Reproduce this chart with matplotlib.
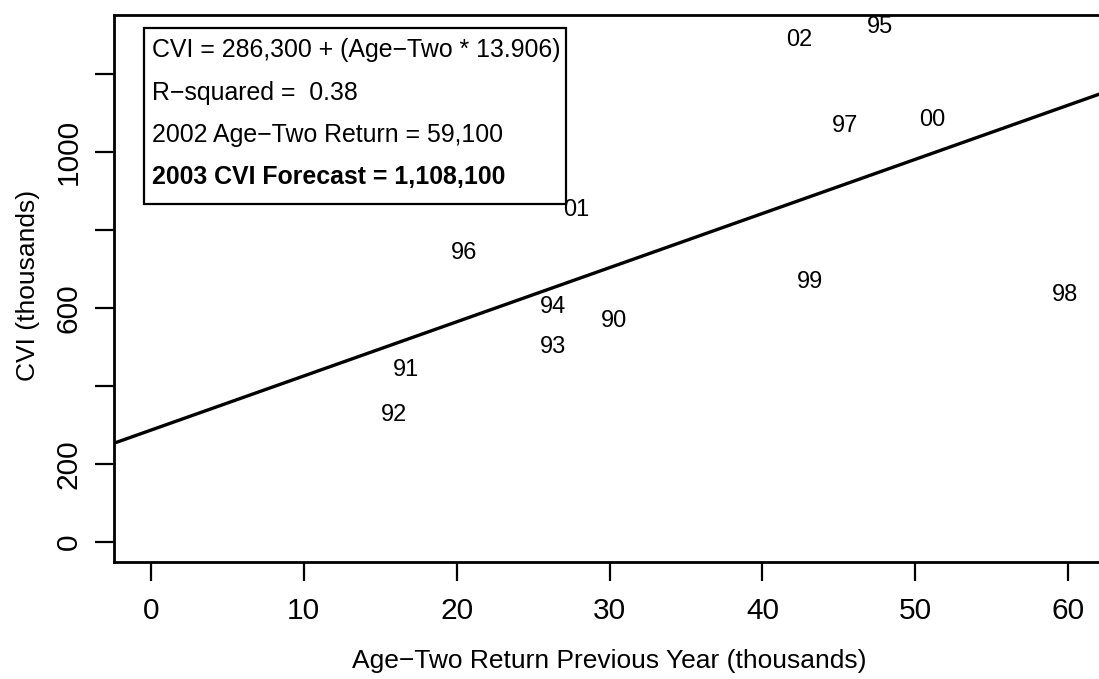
import numpy as np
import matplotlib.pyplot as plt
from matplotlib.patches import Rectangle

plt.rcParams['font.family'] = ['Liberation Sans', 'DejaVu Sans']

# point labels (brood year) and their values, thousands
YEARS = ['90', '91', '92', '93', '94', '95', '96', '97', '98', '99', '00', '01', '02']
AGE_TWO = [30.3, 16.7, 15.9, 26.3, 26.3, 47.7, 20.5, 45.4, 59.8, 43.1, 51.1, 27.8, 42.4]
CVI = [567, 441, 325, 500, 603, 1320, 740, 1067, 633, 667, 1082, 851, 1289]

INTERCEPT = 286.3
SLOPE = 13.906

BOX_LINES = ['CVI = 286,300 + (Age\u2212Two * 13.906)',
             'R\u2212squared =  0.38',
             '2002 Age\u2212Two Return = 59,100',
             '2003 CVI Forecast = 1,108,100']
BOX_Y = [0.936, 0.857, 0.781, 0.704]

X_TICKS = [0, 10, 20, 30, 40, 50, 60]
Y_TICKS = [0, 200, 400, 600, 800, 1000, 1200]
Y_TICK_LABELS = ['0', '200', '', '600', '', '1000', '']

fig = plt.figure(figsize=(10.99, 6.79), dpi=100)
ax = fig.add_axes([114 / 1099, 1 - 562 / 679, 991 / 1099, 547 / 679])

xlim = (-2.4, 62.4)
ax.set_xlim(*xlim)
ax.set_ylim(-52, 1352)

# fitted line
xl = np.array(xlim)
ax.plot(xl, INTERCEPT + SLOPE * xl, color='black', lw=2.4, solid_capstyle='butt')

for lab, xv, yv in zip(YEARS, AGE_TWO, CVI):
    ax.text(xv, yv, lab, ha='center', va='center', fontsize=17)

# legend box with fit summary
ax.add_patch(Rectangle((0.030, 0.6545), 0.4263, 0.3218, transform=ax.transAxes,
                       fill=False, edgecolor='black', lw=1.6))
for i, (line, yy) in enumerate(zip(BOX_LINES, BOX_Y)):
    ax.text(0.0383, yy, line, transform=ax.transAxes,
            ha='left', va='center', fontsize=17.9,
            fontweight='bold' if i == 3 else 'normal')

ax.set_xticks(X_TICKS)
ax.set_xticklabels([str(t) for t in X_TICKS])
ax.set_yticks(Y_TICKS)
ax.set_yticklabels(Y_TICK_LABELS, rotation=90, va='center')
ax.tick_params(axis='both', length=13.5, width=1.6, labelsize=21.5, color='black')
ax.tick_params(axis='x', pad=12)
ax.tick_params(axis='y', pad=9)
for s in ax.spines.values():
    s.set_linewidth(2)

ax.set_xlabel('Age\u2212Two Return Previous Year (thousands)', fontsize=19)
ax.xaxis.label.set_va('center')
ax.xaxis.set_label_coords(0.5, -0.181)
ax.set_ylabel('CVI (thousands)', fontsize=19)
ax.yaxis.label.set_va('center')
ax.yaxis.set_label_coords(-0.0868, 0.505)

fig.savefig('out.png', dpi=100)
